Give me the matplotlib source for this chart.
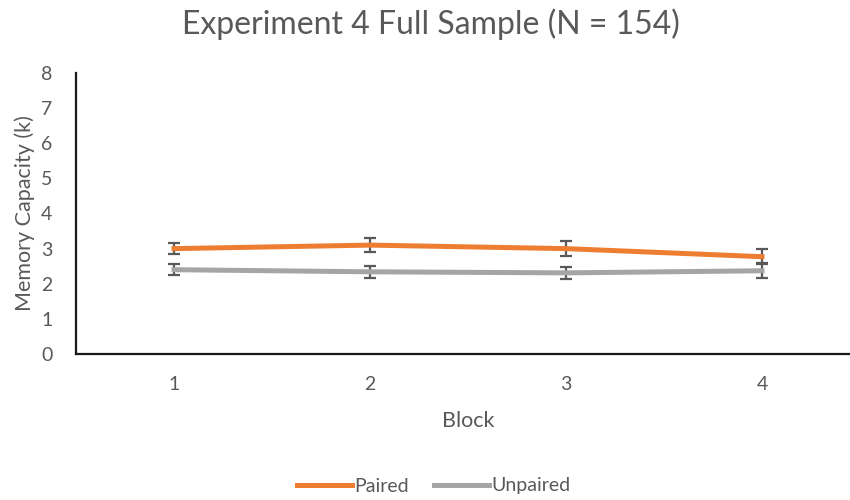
import matplotlib
matplotlib.use("Agg")
import matplotlib.pyplot as plt
import numpy as np

plt.rcParams['font.family'] = ['Lato', 'DejaVu Sans']

blocks = [1, 2, 3, 4]
paired = [3.00, 3.10, 3.00, 2.77]
paired_err = [0.16, 0.20, 0.22, 0.21]
unpaired = [2.40, 2.34, 2.31, 2.37]
unpaired_err = [0.16, 0.17, 0.18, 0.21]

text_col = '#595959'

fig = plt.figure(figsize=(8.5, 5), dpi=100)
ax = fig.add_axes([76/850, 146/500, 784/850, 281/500])

ax.errorbar(blocks, paired, yerr=paired_err, color='#ED7D31', lw=3.6,
            ecolor='#595959', elinewidth=1.6, capsize=4.5, capthick=1.6,
            label='Paired', zorder=3)
ax.errorbar(blocks, unpaired, yerr=unpaired_err, color='#A5A5A5', lw=3.6,
            ecolor='#595959', elinewidth=1.6, capsize=4.5, capthick=1.6,
            label='Unpaired', zorder=2)

ax.set_xlim(0.5, 4.5)
ax.set_ylim(0, 8)
ax.set_xticks(blocks)
ax.set_yticks(range(0, 9))
ax.tick_params(length=0, labelsize=14, labelcolor=text_col)
ax.tick_params(axis='x', pad=16)
ax.tick_params(axis='y', pad=17)
for s in ['top', 'right']:
    ax.spines[s].set_visible(False)
for s in ['left', 'bottom']:
    ax.spines[s].set_linewidth(1.6)
    ax.spines[s].set_color('#1a1a1a')

ax.set_xlabel('Block', fontsize=15.5, color=text_col, labelpad=13)
ax.set_ylabel('Memory Capacity (k)', fontsize=15.5, color=text_col, labelpad=4)

fig.text(431/850, 1 - 24/500, 'Experiment 4 Full Sample (N = 154)',
         fontsize=23, color=text_col, ha='center', va='center')

handles, labels = ax.get_legend_handles_labels()
handles = [h[0] for h in handles]
fig.legend(handles, labels, loc='center', bbox_to_anchor=(434/850, 1 - 486/500),
           ncol=2, frameon=False, fontsize=14, labelcolor=text_col,
           handlelength=2.8, handletextpad=0.15, columnspacing=1.3)

fig.savefig('out.png', dpi=100)
